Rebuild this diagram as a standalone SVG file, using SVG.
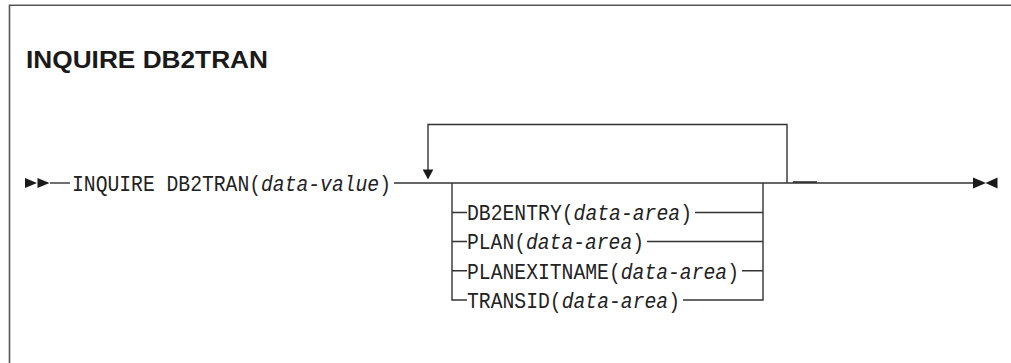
<svg xmlns="http://www.w3.org/2000/svg" width="1011" height="363" viewBox="0 0 1011 363">
<style>
.ln{stroke:#333;stroke-width:1.4;fill:none}
.fr{stroke:#555;stroke-width:1.6;fill:none}
.t{font-family:"Liberation Mono","DejaVu Sans Mono",monospace;font-size:21.5px;fill:#222}
.i{font-style:italic}
.h{font-family:"Liberation Sans",Arial,sans-serif;font-weight:bold;font-size:23px;fill:#1a1a1a}
.ah{fill:#1a1a1a}
</style>
<rect width="1011" height="363" fill="#fff"/>
<g id="frame">
<path class="fr" d="M9.5,363 V5.3 H1011"/>
</g>
<g id="title">
<text class="h" x="26" y="68" textLength="242" lengthAdjust="spacingAndGlyphs">INQUIRE DB2TRAN</text>
</g>
<g id="connectors">
<path class="ln" d="M50,183 H70"/>
<path class="ln" d="M394,183 H973"/>
<path class="ln" d="M428,170 V124.5 H787 V183"/>
<rect x="793" y="181.2" width="24" height="1.8" fill="#333"/>
<path class="ln" d="M452,183 V300 H467"/>
<path class="ln" d="M763,183 V300 H683"/>
<path class="ln" d="M452,212.5 H467 M695,212.5 H763"/>
<path class="ln" d="M452,241.5 H467 M647,241.5 H763"/>
<path class="ln" d="M452,270.7 H467 M742,270.7 H763"/>
</g>
<g id="start-marker">
<polygon class="ah" points="25,178 37,183 25,188"/>
<polygon class="ah" points="37.5,178 49.5,183 37.5,188"/>
</g>
<g id="loop-arrow">
<polygon class="ah" points="422.7,169.5 433.3,169.5 428,179.5"/>
</g>
<g id="end-marker">
<polygon class="ah" points="973,177.5 986,183 973,188.5"/>
<polygon class="ah" points="997.5,177.5 985.5,183 997.5,188.5"/>
</g>
<g id="command">
<text class="t" x="72" y="190.8" textLength="319" lengthAdjust="spacingAndGlyphs">INQUIRE DB2TRAN(<tspan class="i">data-value</tspan>)</text>
</g>
<g id="opt-db2entry">
<text class="t" x="467" y="220.3" textLength="225" lengthAdjust="spacingAndGlyphs">DB2ENTRY(<tspan class="i">data-area</tspan>)</text>
</g>
<g id="opt-plan">
<text class="t" x="467" y="249.3" textLength="177" lengthAdjust="spacingAndGlyphs">PLAN(<tspan class="i">data-area</tspan>)</text>
</g>
<g id="opt-planexitname">
<text class="t" x="467" y="278.5" textLength="272" lengthAdjust="spacingAndGlyphs">PLANEXITNAME(<tspan class="i">data-area</tspan>)</text>
</g>
<g id="opt-transid">
<text class="t" x="467" y="307.8" textLength="213" lengthAdjust="spacingAndGlyphs">TRANSID(<tspan class="i">data-area</tspan>)</text>
</g>
</svg>
